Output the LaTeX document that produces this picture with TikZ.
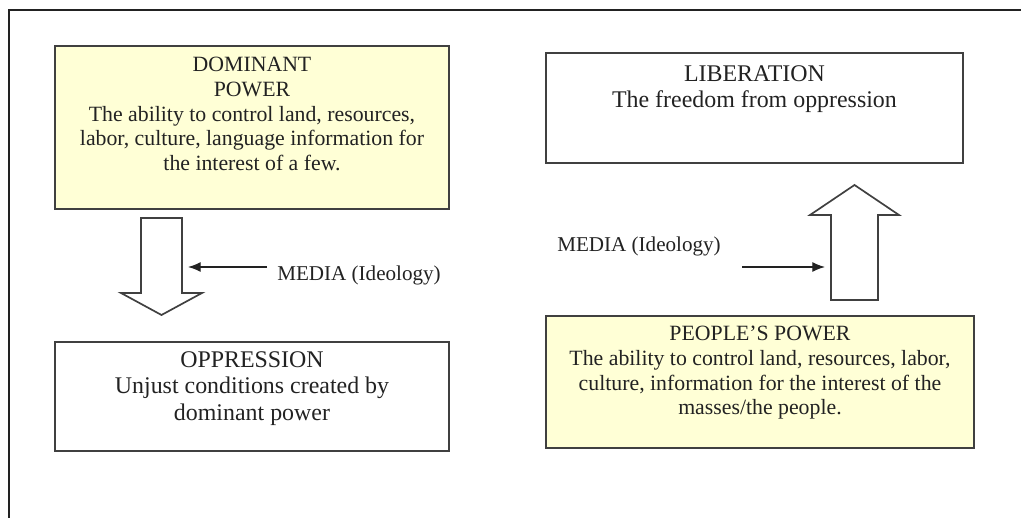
\documentclass[tikz,border=0pt]{standalone}
\usepackage{fontspec}
\setmainfont{Liberation Serif}
\usetikzlibrary{positioning,arrows.meta}

\definecolor{paleyellow}{RGB}{255,255,214}
\definecolor{linegray}{RGB}{64,64,64}
\definecolor{inkgray}{RGB}{34,34,34}

\tikzset{
  panel/.style={draw=linegray, line width=1.2pt, inner sep=0pt},
  powerpanel/.style={panel, fill=paleyellow},
  paneltext/.style={align=center, inner sep=0pt, text=inkgray},
  timestext/.style={paneltext, font=\fontsize{15.5}{17.5}\selectfont},
  widetext/.style={paneltext, font=\fontsize{17}{19}\selectfont},
  mediatext/.style={inner sep=0pt, text=inkgray, font=\fontsize{15}{18}\selectfont},
  hollowarrow/.style={draw=linegray, line width=1.2pt, fill=white, line join=miter},
  mediaarrow/.style={-{Latex[length=9pt,width=7pt]}, line width=0.8pt, draw=inkgray},
}

\begin{document}
\begin{tikzpicture}[x=0.025cm, y=-0.025cm]
\useasboundingbox (0,0) rectangle (1021,518);
% outer frame, cut off at right and bottom
\draw[line width=2pt, inkgray] (9,518) -- (9,10) -- (1021,10);

% left column
\node[powerpanel, minimum width=9.85cm, minimum height=4.075cm] (dominant) at (252,127.5) {};
\node[timestext, below=0.3cm of dominant.north] (dominanttext) {DOMINANT\\POWER\\The ability to control land, resources,\\labor, culture, language information for\\the interest of a few.};

\node[panel, minimum width=9.85cm, minimum height=2.725cm] (oppression) at (252,396.5) {};
\node[widetext, below=0.25cm of oppression.north] (oppressiontext) {OPPRESSION\\Unjust conditions created by\\dominant power};

% right column
\node[panel, minimum width=10.425cm, minimum height=2.75cm] (liberation) at (754.5,108) {};
\node[widetext, below=0.32cm of liberation.north] (liberationtext) {LIBERATION\\The freedom from oppression};

\node[powerpanel, minimum width=10.7cm, minimum height=3.3cm] (people) at (760,382) {};
\node[timestext, below=0.275cm of people.north] (peopletext) {PEOPLE'S POWER\\The ability to control land, resources, labor,\\culture, information for the interest of the\\masses/the people.};

% hollow arrows
\coordinate (downtop) at (161.5,218);
\draw[hollowarrow] (downtop) ++(-20.5,0) -- ++(0,75) -- ++(-20,0) -- ++(40.5,22) -- ++(40.5,-22) -- ++(-20,0) -- ++(0,-75) -- cycle;
\coordinate (upfoot) at (854.5,300);
\draw[hollowarrow] (upfoot) ++(-23.5,0) -- ++(0,-85) -- ++(-21,0) -- ++(44.5,-30) -- ++(44.5,30) -- ++(-21,0) -- ++(0,85) -- cycle;

% media
\coordinate (leftend) at (267,267);
\coordinate (downhit) at (188,267);
\node[mediatext, anchor=base west] (medialeft) at (277,281) {MEDIA (Ideology)};
\draw[mediaarrow] (leftend) -- (downhit);

\coordinate (rightend) at (742,267);
\coordinate (uphit) at (825,267);
\node[mediatext, anchor=base west] (mediaright) at (557,251) {MEDIA (Ideology)};
\draw[mediaarrow] (rightend) -- (uphit);
\end{tikzpicture}
\end{document}
